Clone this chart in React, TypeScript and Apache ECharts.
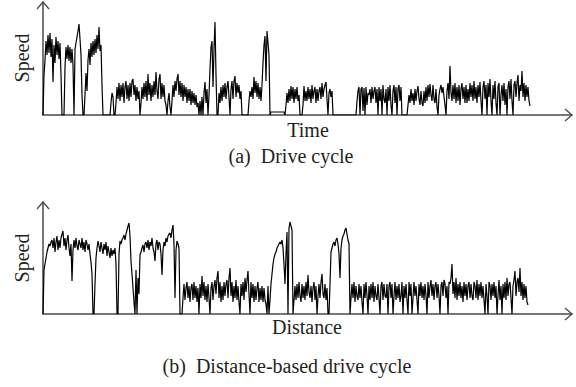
import React, { useEffect, useRef } from "react";
import * as echarts from "echarts";

// Sample spacing (time / distance index step) and speed samples
const SAMPLE_STEP = 1;

const driveCycleSpeed: number[] = [
  0, 40,
  55, 74, 60, 80, 62, 82, 58, 76, 33, 70, 52, 78, 60, 74, 56, 72, 40,
  0, 0, 0,
  48, 68, 56, 70, 54, 68, 52, 66, 50,
  0,
  66, 72, 78, 84, 91, 76, 60, 20,
  0, 0,
  20, 42, 24, 55, 66, 50, 72, 58, 74, 60, 76, 62, 80, 66, 88, 64, 70, 30,
  0, 0, 0, 0, 0, 0, 0, 0,
  12, 22, 18, 0, 0,
  12, 28, 16, 32, 14, 30, 18, 32, 12, 28, 34, 16, 30, 14, 32, 18, 34, 36, 20, 30, 14, 28, 16, 24,
  0,
  12, 28, 16, 32, 18, 34, 14, 41, 20, 32, 14, 30, 18, 34, 20, 43, 24, 16, 36, 41, 16, 32, 18, 30, 14, 10,
  0,
  14, 22, 8,
  0,
  14, 30, 18, 34, 24, 36, 41, 20, 34, 18, 32, 14, 30, 18, 28, 12, 26, 14, 26, 10, 24, 12, 22, 10, 20, 8,
  12, 0, 14, 0, 18, 0, 22, 33, 12, 26, 0,
  20, 46, 68, 74, 28, 66, 93, 40, 0, 0,
  22, 12, 28, 14, 30, 18, 32, 16, 28, 34, 18,
  0,
  26, 34, 16, 34, 39, 18, 32, 22, 30, 16, 24,
  0, 0, 0, 0, 0, 0, 0,
  14, 24, 18, 28, 16, 38, 22, 34, 18, 32, 16, 28, 14, 30,
  52, 70, 79, 34, 84, 72, 60, 0,
  3, 3, 3, 3, 3, 3, 3, 3, 3, 3, 3, 3, 3, 3,
  0,
  10, 22, 12, 26, 14, 29, 16, 28, 12, 26, 16, 28, 14, 20,
  0, 0, 0,
  10, 29, 14,
  24, 14, 28, 16, 26, 12, 30, 16, 24, 28, 12, 26, 14, 24, 28, 16, 32, 18, 26, 30, 33, 16,
  0,
  22, 26, 18, 24,
  0, 0, 0, 0, 0, 0, 0, 0, 0, 0, 0, 0, 0, 0, 0, 0, 0, 0, 0, 0, 0, 0, 0, 0,
  14, 24, 28, 0, 26, 28, 4, 27, 0, 28, 10, 22, 20,
  26, 12, 28, 16, 24, 28, 12, 26, 0, 28, 14, 26, 0, 30, 16, 12, 26, 0, 28, 14, 30, 10, 0, 24, 30, 12, 28, 0, 26, 30, 14, 28, 0,
  0, 0, 0, 0, 0,
  10, 20, 12, 26, 14, 22, 10, 26, 14, 24, 29, 16, 10, 24, 12, 9, 24, 12, 28, 14, 30, 18, 31, 20, 14, 30, 16, 12, 26, 8, 0,
  20, 26, 30, 22, 28, 18, 10,
  0,
  24, 32, 16, 49, 22, 14, 30, 16, 32, 12,
  28, 14, 30, 10, 26, 32, 16, 28, 12, 30,
  12, 26, 14, 32, 18, 30, 14, 34, 16, 28,
  12, 30, 18, 33, 14, 0, 28, 34, 16, 30,
  0, 32, 18, 36, 14, 0, 30, 16, 34, 12,
  0, 28, 32, 0, 20, 30, 14, 32, 10, 26,
  0, 28, 34, 16, 36, 14, 0, 30, 34, 18,
  32, 40, 14, 30, 24, 44, 18, 32, 14, 30,
  18, 28, 14, 9,
];

const distanceCycleSpeed: number[] = [
  0, 44,
  50, 56, 62, 66, 70, 68, 72,
  74, 66, 76, 62, 72, 78, 64, 74, 66, 76,
  80, 83, 68, 76, 64, 74, 79, 66, 58, 70,
  33, 64, 74, 66, 76, 68, 64, 74, 70, 66,
  76, 64, 72, 62, 74, 70, 64, 70, 60, 52, 40,
  0, 0, 30,
  56, 66, 73, 68, 62, 72, 66, 60, 70, 64, 72, 58, 68, 62, 56, 66, 58, 64, 60, 66, 50,
  0, 0,
  60, 73, 70, 74, 76, 79, 74, 80, 84, 88, 91, 78, 53, 40, 26, 12, 0,
  44, 0, 36, 20,
  59, 62, 66, 69, 62, 70, 72, 66, 74, 64,
  72, 68, 76, 66, 62, 53, 70, 74, 64, 72,
  70, 60, 39, 64, 72, 68, 76, 72, 78, 80,
  81, 76, 84, 89, 70, 16, 64, 73, 70, 66,
  0, 0,
  0, 16, 30, 14, 26, 32, 16, 28, 12, 26,
  30, 14, 32, 16, 28, 12, 26, 0, 30, 16,
  38, 18, 32, 14, 28, 12, 30, 16, 0, 26,
  32, 14, 28, 34, 20, 36, 43, 16, 32, 12,
  28, 14, 32, 18, 30, 34, 16, 36, 46, 18,
  32, 12, 28, 16, 34, 14, 28, 12, 0, 30,
  18, 32, 14, 36, 22, 34, 43, 20, 0, 32,
  16, 30, 12, 28, 14, 26, 32, 12, 26, 14,
  28, 12, 26, 14, 10, 0, 28, 0, 14,
  30, 40, 50, 56, 60, 62, 66, 68, 70, 72, 70, 74, 66, 50, 30, 60, 82, 0, 86, 92, 88, 84, 0,
  14, 28, 14, 30, 16, 32, 18, 12, 30, 16,
  28, 14, 32, 18, 39, 22, 16, 28, 12, 26,
  32, 14, 28, 0, 18, 30, 16, 32, 40, 20,
  16, 30, 14, 26, 0,
  0, 30, 62, 66, 70, 72, 68, 74, 76, 70, 60, 36, 66, 74, 78, 80, 84, 86, 80, 74, 70, 0,
  16, 30, 16, 32, 12, 28, 18, 14, 30, 16,
  28, 12, 0, 30, 16, 32, 18, 0, 28, 14,
  30, 16, 32, 12, 28, 18, 14, 30, 16, 0,
  28, 32, 14, 30, 18, 16, 30, 0, 28, 32,
  16, 30, 0, 18, 32, 14, 28, 16, 30, 12,
  18, 32, 0, 28, 16, 30, 14, 0, 32, 18,
  30, 0, 16, 32, 18, 28, 14, 0, 30, 18,
  32, 16, 28, 14, 30, 18, 0, 32, 16, 28,
  34, 18, 30, 14, 28, 32, 16, 30, 18, 0,
  28, 32, 18, 34, 30, 16, 28, 0, 32, 30,
  36, 50, 20, 32, 16, 36, 14, 30, 18, 32,
  16, 28, 12, 32, 18, 30, 14, 28, 32, 16,
  30, 18, 14, 32, 28, 16, 34, 14, 30, 18,
  32, 16, 28, 14, 0, 30, 18, 0, 32, 28,
  14, 30, 18, 32, 16, 28, 0, 18, 34, 14,
  28, 0, 30, 16, 32, 14, 36, 18, 30, 32,
  16, 0, 28, 34, 43, 18, 32, 36, 22, 46,
  18, 32, 14, 30, 16, 28, 12, 9,
];

const axisTexts = {
  speed: "Speed",
  time: "Time",
  distance: "Distance",
  captionA: "(a)  Drive cycle",
  captionB: "(b)  Distance-based drive cycle",
};

const FONT = '"Liberation Serif", "DejaVu Serif", serif';
const TEXT_COLOR = "#231f20";
const AXIS_COLOR = "#4a4a4a";

export default function App() {
  const ref = useRef<HTMLDivElement>(null);

  useEffect(() => {
    if (!ref.current) return;
    const chart = echarts.init(ref.current, undefined, { renderer: "svg" });

    const toPoints = (arr: number[]) => arr.map((v, i) => [i * SAMPLE_STEP, v]);

    const hiddenAxisBits = {
      axisTick: { show: false },
      axisLabel: { show: false },
      splitLine: { show: false },
    };

    const textStyle = (extra: any) => ({
      fill: TEXT_COLOR,
      fontFamily: FONT,
      fontSize: 20,
      align: "center",
      verticalAlign: "middle",
      ...extra,
    });

    const arrow = (pts: number[][]) => ({
      type: "polyline",
      shape: { points: pts },
      style: { stroke: AXIS_COLOR, lineWidth: 1.3, fill: "none" },
      silent: true,
    });

    chart.setOption({
      animation: false,
      backgroundColor: "#ffffff",
      grid: [
        { left: 43, top: 2, width: 529, height: 113 },
        { left: 43, top: 202, width: 529, height: 112 },
      ],
      xAxis: [0, 1].map((g) => ({
        type: "value",
        gridIndex: g,
        min: 0,
        max: 529,
        axisLine: { show: true, lineStyle: { color: AXIS_COLOR, width: 1.5 } },
        ...hiddenAxisBits,
      })),
      yAxis: [0, 1].map((g) => ({
        type: "value",
        gridIndex: g,
        min: 0,
        max: g === 0 ? 113 : 112,
        axisLine: { show: true, lineStyle: { color: AXIS_COLOR, width: 1.5 } },
        ...hiddenAxisBits,
      })),
      series: [
        {
          type: "line",
          xAxisIndex: 0,
          yAxisIndex: 0,
          data: toPoints(driveCycleSpeed),
          showSymbol: false,
          lineStyle: { color: "#000", width: 1.2 },
          silent: true,
        },
        {
          type: "line",
          xAxisIndex: 1,
          yAxisIndex: 1,
          data: toPoints(distanceCycleSpeed),
          showSymbol: false,
          lineStyle: { color: "#000", width: 1.2 },
          silent: true,
        },
      ],
      graphic: [
        arrow([[37, 9], [43, 2], [49, 9]]),
        arrow([[565, 109], [572, 115], [565, 121]]),
        arrow([[37, 209], [43, 202], [49, 209]]),
        arrow([[565, 308], [572, 314], [565, 320]]),
        {
          type: "text",
          x: 22,
          y: 58,
          rotation: Math.PI / 2,
          style: textStyle({ text: axisTexts.speed }),
        },
        {
          type: "text",
          x: 22,
          y: 258,
          rotation: Math.PI / 2,
          style: textStyle({ text: axisTexts.speed }),
        },
        { type: "text", x: 308, y: 130, style: textStyle({ text: axisTexts.time }) },
        { type: "text", x: 291, y: 156, style: textStyle({ text: axisTexts.captionA }) },
        { type: "text", x: 307, y: 327, style: textStyle({ text: axisTexts.distance }) },
        { type: "text", x: 287, y: 366, style: textStyle({ text: axisTexts.captionB }) },
      ],
    });

    return () => chart.dispose();
  }, []);

  return (
    <div
      ref={ref}
      style={{ position: "fixed", left: 0, top: 0, width: 576, height: 387 }}
    />
  );
}
